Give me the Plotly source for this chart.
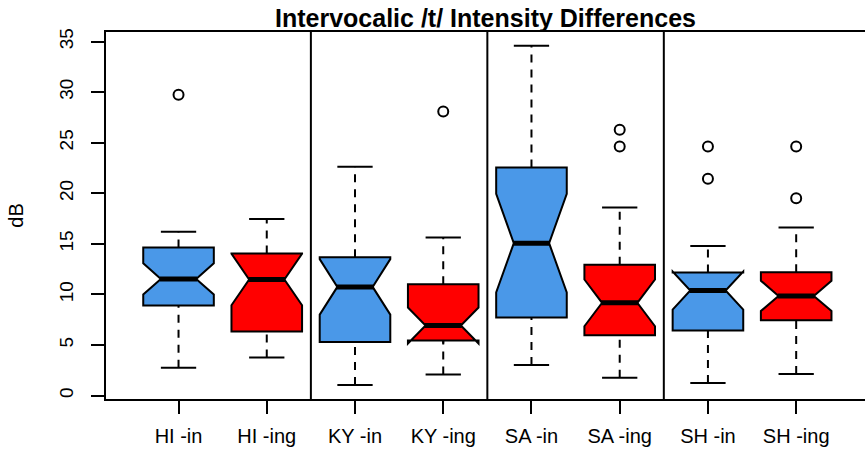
import plotly.graph_objects as go

# ---- data ----
categories = ["HI -in", "HI -ing", "KY -in", "KY -ing", "SA -in", "SA -ing", "SH -in", "SH -ing"]
q1 = [8.90, 6.33, 5.31, 5.45, 7.72, 5.97, 6.43, 7.46]
median = [11.54, 11.48, 10.75, 6.93, 15.07, 9.17, 10.39, 9.86]
q3 = [14.64, 14.05, 13.69, 11.02, 22.55, 12.93, 12.17, 12.20]
notch_span = [1.54, 2.55, 2.74, 1.78, 4.87, 2.31, 1.88, 1.50]
whisker_low = [2.77, 3.76, 1.06, 2.08, 3.04, 1.78, 1.26, 2.15]
whisker_high = [16.19, 17.45, 22.62, 15.63, 34.59, 18.60, 14.78, 16.62]
outliers = [[29.74], [], [], [28.09], [], [26.28, 24.63], [24.63, 21.43], [24.63, 19.52]]
y_ticks = [0, 5, 10, 15, 20, 25, 30, 35]

BLUE = "#4A98E8"
RED = "#FF0000"
BOXW = 0.8
FONT = "Liberation Sans, Arial, Helvetica, sans-serif"

pos = list(range(1, len(categories) + 1))

fig = go.Figure()

# whiskers (dashed)
wx, wy = [], []
for p, lo, a, b, hi in zip(pos, whisker_low, q1, q3, whisker_high):
    wx += [p, p, None, p, p, None]
    wy += [lo, a, None, b, hi, None]
fig.add_trace(go.Scatter(x=wx, y=wy, mode="lines", showlegend=False, hoverinfo="skip",
                         line=dict(color="black", width=2, dash="8px,7px")))

# whisker caps
cx, cy = [], []
for p, lo, hi in zip(pos, whisker_low, whisker_high):
    cx += [p - BOXW / 4, p + BOXW / 4, None, p - BOXW / 4, p + BOXW / 4, None]
    cy += [lo, lo, None, hi, hi, None]
fig.add_trace(go.Scatter(x=cx, y=cy, mode="lines", showlegend=False, hoverinfo="skip",
                         line=dict(color="black", width=2)))

# notched boxes: "-in" blue, "-ing" red
for start, color in [(0, BLUE), (1, RED)]:
    idx = list(range(start, len(categories), 2))
    fig.add_trace(go.Box(
        x=[pos[i] for i in idx],
        q1=[q1[i] for i in idx],
        median=[median[i] for i in idx],
        q3=[q3[i] for i in idx],
        lowerfence=[q1[i] for i in idx],
        upperfence=[q3[i] for i in idx],
        notchspan=[notch_span[i] for i in idx],
        notched=True, notchwidth=0.25, width=BOXW,
        fillcolor=color, line=dict(color="black", width=2),
        whiskerwidth=0, boxpoints=False, showlegend=False, hoverinfo="skip",
    ))

# thick medians
mx, my = [], []
for p, m in zip(pos, median):
    mx += [p - BOXW / 4 - 0.01, p + BOXW / 4 + 0.01, None]
    my += [m, m, None]
fig.add_trace(go.Scatter(x=mx, y=my, mode="lines", showlegend=False, hoverinfo="skip",
                         line=dict(color="black", width=5)))

# outliers
ox, oy = [], []
for p, vals in zip(pos, outliers):
    for v in vals:
        ox.append(p)
        oy.append(v)
fig.add_trace(go.Scatter(x=ox, y=oy, mode="markers", showlegend=False, hoverinfo="skip",
                         marker=dict(symbol="circle-open", size=10, color="black",
                                     line=dict(width=2, color="black"))))

# group separators
shapes = []
for k in range(2, len(categories), 2):
    xs = (pos[k - 1] + pos[k]) / 2
    shapes.append(dict(type="line", xref="x", yref="paper", x0=xs, x1=xs, y0=0, y1=1,
                       line=dict(color="black", width=2)))

fig.update_layout(
    width=865, height=450,
    margin=dict(l=106, r=0, t=32, b=51, pad=0),
    paper_bgcolor="white", plot_bgcolor="white",
    font=dict(family=FONT, color="black", size=19),
    title=dict(text="Intervocalic /t/ Intensity Differences", x=0.5, xref="paper",
               y=1 - 18 / 450, yref="container", yanchor="middle", xanchor="center",
               font=dict(family=FONT, size=25, weight="bold", color="black")),
    shapes=shapes,
    xaxis=dict(range=[0.178, 8.78], tickmode="array", tickvals=pos, ticktext=categories,
               ticks="outside", ticklen=13, tickwidth=2, tickcolor="black",
               showline=True, linewidth=2, linecolor="black", mirror=True,
               showgrid=False, zeroline=False, tickfont=dict(size=20),
               ticklabelstandoff=5),
    yaxis=dict(range=[-0.33, 35.94], tickmode="array", tickvals=y_ticks,
               ticks="outside", ticklen=13, tickwidth=2, tickcolor="black",
               showline=True, linewidth=2, linecolor="black", mirror=False,
               showgrid=False, zeroline=False, tickangle=-90, tickfont=dict(size=19),
               ticklabelstandoff=10,
               title=dict(text="dB", font=dict(size=20), standoff=27)),
)

fig.write_html("out.html")
